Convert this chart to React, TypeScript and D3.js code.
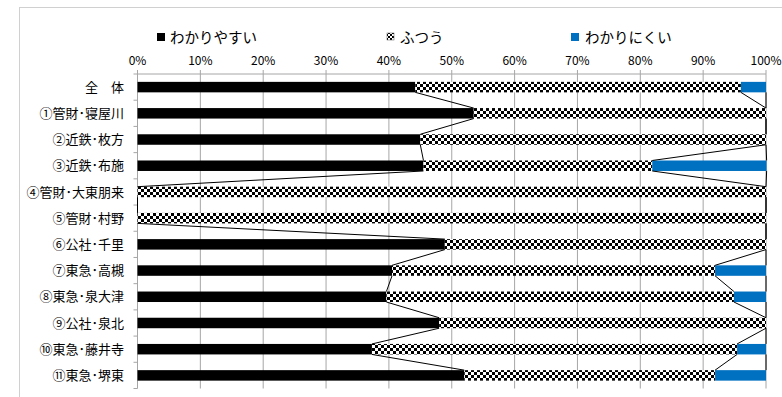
import React from "react";
import * as d3 from "d3";

// Survey results: share of answers per site (percent, rows sum to 100)
const categories = [
  "全　体",
  "①管財･寝屋川",
  "②近鉄･枚方",
  "③近鉄･布施",
  "④管財･大東朋来",
  "⑤管財･村野",
  "⑥公社･千里",
  "⑦東急･高槻",
  "⑧東急･泉大津",
  "⑨公社･泉北",
  "⑩東急･藤井寺",
  "⑪東急･堺東",
];
const easy = [44.2, 53.5, 45.0, 45.5, 0, 0, 48.9, 40.5, 39.6, 48.0, 37.3, 52.0];
const normal = [51.8, 46.5, 55.0, 36.4, 100, 100, 51.1, 51.4, 55.3, 52.0, 58.1, 39.9];
const hard = [4.0, 0, 0, 18.2, 0, 0, 0, 8.1, 5.1, 0, 4.6, 8.1];
const seriesNames = ["わかりやすい", "ふつう", "わかりにくい"];
const xTicks = [0, 10, 20, 30, 40, 50, 60, 70, 80, 90, 100];

const W = 782;
const H = 397;
const FONT = "'Noto Sans CJK JP', 'Noto Sans', sans-serif";
const BLUE = "#0070C0";
const GRID = "#a6a6a6";

export default function App() {
  const x = d3.scaleLinear().domain([0, 100]).range([137.5, 766]);
  const y = d3
    .scaleBand<string>()
    .domain(categories)
    .range([74, 388.5])
    .paddingInner(0.6)
    .paddingOuter(0.3);
  const step = y.step();
  const bandTop = 74;
  const bandBottom = 388.5;
  const bw = y.bandwidth();

  const rows = categories.map((c, i) => {
    const a = easy[i];
    const b = normal[i];
    const c3 = hard[i];
    return {
      cat: c,
      segs: [
        { x0: 0, x1: a, fill: "#000" },
        { x0: a, x1: a + b, fill: "url(#checker)" },
        { x0: a + b, x1: a + b + c3, fill: BLUE },
      ],
      ends: [a, a + b, a + b + c3],
    };
  });

  // connector lines between consecutive bars at each stack boundary
  const seriesLines: { x1: number; y1: number; x2: number; y2: number }[] = [];
  for (let i = 0; i < rows.length - 1; i++) {
    for (let k = 0; k < 3; k++) {
      seriesLines.push({
        x1: x(rows[i].ends[k]),
        y1: (y(rows[i].cat) as number) + bw,
        x2: x(rows[i + 1].ends[k]),
        y2: y(rows[i + 1].cat) as number,
      });
    }
  }

  const boundaries = d3.range(categories.length + 1).map((i) => bandTop + i * step);

  return (
    <svg
      width={W}
      height={H}
      style={{ position: "absolute", left: 0, top: 0, background: "#fff" }}
      fontFamily={FONT}
    >
      <defs>
        <pattern id="checker" width={6} height={6} patternUnits="userSpaceOnUse">
          <rect width={6} height={6} fill="#fff" />
          <rect x={0} y={0} width={3} height={3} fill="#000" />
          <rect x={3} y={3} width={3} height={3} fill="#000" />
        </pattern>
        <pattern id="checkerSmall" width={4} height={4} patternUnits="userSpaceOnUse">
          <rect width={4} height={4} fill="#fff" />
          <rect x={0} y={0} width={2} height={2} fill="#000" />
          <rect x={2} y={2} width={2} height={2} fill="#000" />
        </pattern>
      </defs>

      {/* chart frame */}
      <rect x={19.5} y={7.5} width={W} height={H} fill="#fff" stroke="#d0d0d0" />

      {/* legend */}
      <g fontSize={14.5} fill="#000">
        <rect x={157} y={33} width={8} height={8} fill="#000" />
        <text x={170} y={42.5}>{seriesNames[0]}</text>
        <rect x={387} y={33} width={7} height={7} fill="url(#checkerSmall)" stroke="#555" strokeWidth={0.5} />
        <text x={400} y={42.5}>{seriesNames[1]}</text>
        <rect x={571} y={33} width={8} height={8} fill={BLUE} />
        <text x={585} y={42.5}>{seriesNames[2]}</text>
      </g>

      {/* gridlines with outward tick marks */}
      {xTicks.map((t) => (
        <line key={t} x1={x(t)} x2={x(t)} y1={bandTop - 4} y2={bandBottom} stroke={GRID} strokeWidth={1} />
      ))}
      <line x1={x(0)} x2={x(100)} y1={bandTop} y2={bandTop} stroke={GRID} />
      {xTicks.map((t) => (
        <text key={"l" + t} x={x(t)} y={64.5} fontSize={12} textAnchor="middle" fill="#000">
          {t}%
        </text>
      ))}

      {/* category ticks */}
      {boundaries.map((b, i) => (
        <line key={"b" + i} x1={x(0) - 4} x2={x(0)} y1={b} y2={b} stroke={GRID} />
      ))}
      {categories.map((c) => (
        <text
          key={"c" + c}
          x={124}
          y={(y(c) as number) + bw / 2}
          dy="0.36em"
          fontSize={13}
          textAnchor="end"
          fill="#000"
        >
          {c}
        </text>
      ))}

      {/* stacked bars */}
      {rows.map((r) =>
        r.segs
          .filter((s) => s.x1 - s.x0 > 0)
          .map((s, k) => (
            <rect
              key={r.cat + k}
              x={x(s.x0)}
              y={y(r.cat)}
              width={x(s.x1) - x(s.x0)}
              height={bw}
              fill={s.fill}
            />
          ))
      )}

      {/* series lines */}
      {seriesLines.map((l, i) => (
        <line key={"s" + i} x1={l.x1} y1={l.y1} x2={l.x2} y2={l.y2} stroke="#000" strokeWidth={1} />
      ))}
    </svg>
  );
}
